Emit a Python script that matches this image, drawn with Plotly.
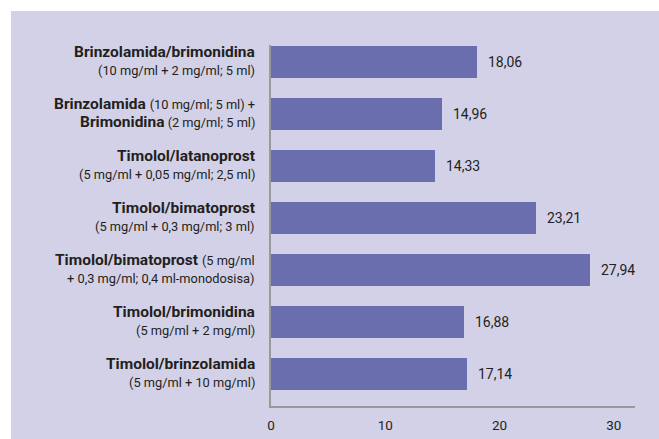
import plotly.graph_objects as go

# Data
keys = ["b1", "b2", "b3", "b4", "b5", "b6", "b7"]
values = [18.06, 14.96, 14.33, 23.21, 27.94, 16.88, 17.14]
line1 = [
    "<b>Brinzolamida/brimonidina</b>",
    "<b>Brinzolamida</b> <span style='font-size:12.8px'>(10 mg/ml; 5 ml) +</span>",
    "<b>Timolol/latanoprost</b>",
    "<b>Timolol/bimatoprost</b>",
    "<b>Timolol/bimatoprost</b> <span style='font-size:12.8px'>(5 mg/ml</span>",
    "<b>Timolol/brimonidina</b>",
    "<b>Timolol/brinzolamida</b>",
]
line2 = [
    "(10 mg/ml + 2 mg/ml; 5 ml)",
    "<b><span style='font-size:15.5px'>Brimonidina</span></b> (2 mg/ml; 5 ml)",
    "(5 mg/ml + 0,05 mg/ml; 2,5 ml)",
    "(5 mg/ml + 0,3 mg/ml; 3 ml)",
    "+ 0,3 mg/ml; 0,4 ml-monodosisa)",
    "(5 mg/ml + 2 mg/ml)",
    "(5 mg/ml + 10 mg/ml)",
]
xticks = [0, 10, 20, 30]

FONT = "Roboto, Arial, sans-serif"
BG = "#D3D1E7"
BAR = "#6A6EAF"
TXT = "#231F20"

fig = go.Figure()
fig.add_trace(go.Bar(
    x=values, y=keys, orientation="h",
    marker=dict(color=BAR, line=dict(width=0)),
    width=0.615, hoverinfo="skip",
))

W, H = 659, 439
L, R, T, B = 271, 24, 45, 33
pw = W - L - R
ph = H - T - B

annotations = []
for k, v, a, b in zip(keys, values, line1, line2):
    annotations.append(dict(
        x=v, y=k, xref="x", yref="y", text=f"{v:.2f}".replace(".", ","),
        showarrow=False, xanchor="left", yanchor="middle", xshift=9,
        font=dict(family=FONT, size=14, color=TXT)))
    annotations.append(dict(
        x=0, y=k, xref="paper", yref="y", text=a, showarrow=False,
        xanchor="right", yanchor="middle", xshift=-14, yshift=10,
        font=dict(family=FONT, size=15.5, color=TXT)))
    annotations.append(dict(
        x=0, y=k, xref="paper", yref="y", text=b, showarrow=False,
        xanchor="right", yanchor="middle", xshift=-14, yshift=-8,
        font=dict(family=FONT, size=12.8, color=TXT)))

fig.update_layout(
    template="none",
    width=W, height=H,
    margin=dict(l=L, r=R, t=T, b=B, pad=0, autoexpand=False),
    paper_bgcolor="white",
    plot_bgcolor="rgba(0,0,0,0)",
    showlegend=False,
    bargap=0,
    font=dict(family=FONT, color=TXT),
    shapes=[dict(
        type="rect", xref="paper", yref="paper", layer="below",
        x0=(11 - L) / pw, x1=(W + 2 - L) / pw,
        y0=-(B + 2) / ph, y1=(H - B - 11) / ph,
        fillcolor=BG, line=dict(width=0))],
    annotations=annotations,
    xaxis=dict(
        range=[0, 31.85], tickvals=xticks, ticktext=[str(t) for t in xticks],
        showgrid=False, zeroline=False, showline=True, linecolor="#999999",
        linewidth=2, ticks="outside", ticklen=6, tickcolor="rgba(0,0,0,0)",
        tickfont=dict(family=FONT, size=13.5, color=TXT), fixedrange=True,
        automargin=False,
    ),
    yaxis=dict(
        type="category", categoryarray=keys, range=[6.615, -0.327],
        showticklabels=False, showgrid=False, zeroline=False,
        showline=True, linecolor="#999999", linewidth=2, fixedrange=True,
        automargin=False,
    ),
)

fig.write_html(
    "out.html",
    config={"displayModeBar": False},
    post_script=(
        "document.body.style.margin='0';"
        "document.body.style.overflow='hidden';"
        "document.documentElement.style.overflow='hidden';"
    ),
)
